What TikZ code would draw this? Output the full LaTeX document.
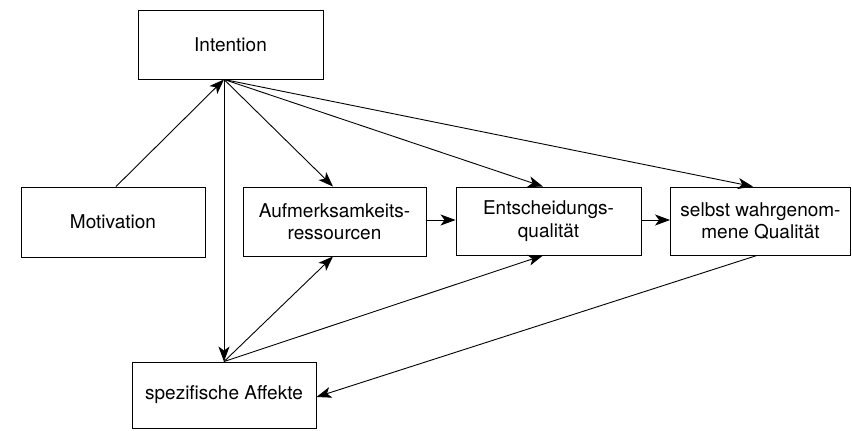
\documentclass[tikz,border=0pt]{standalone}
\usepackage{fontspec}
\setmainfont{TeX Gyre Heros}
\usetikzlibrary{arrows.meta,positioning,calc}
\tikzset{
  box/.style={draw, line width=0.9pt, align=center, inner sep=0pt,
    font=\fontsize{19}{22.5}\selectfont},
  pfeil/.style={line width=0.9pt, -{Stealth[length=15pt,width=11pt,inset=4pt]}}
}

\begin{document}
\begin{tikzpicture}[x=1pt,y=-1pt]
\useasboundingbox (0,0) rectangle (852,431);
\node (int) [box, minimum width=185pt, minimum height=69pt] at (230.5,44.5) {Intention};
\node (mot) [box, minimum width=184pt, minimum height=70pt] at (113,222) {Motivation};
\node (auf) [box, minimum width=183pt, minimum height=69pt] at (334.5,221.5) {Aufmerksamkeits-\\ressourcen};
\node (ent) [box, minimum width=185pt, minimum height=68pt] at (548.5,221) {Entscheidungs-\\qualit\"at};
\node (sel) [box, minimum width=180pt, minimum height=68pt] at (760.5,221) {selbst wahrgenom-\\mene Qualit\"at};
\node (aff) [box, minimum width=184pt, minimum height=66pt] at (224,395) {spezifische Affekte};
% Ankerpunkte
\coordinate (intfuss) at ([xshift=-6.5pt]int.south);
\coordinate (afftop) at (aff.north);
\draw[pfeil] ([xshift=3pt]mot.north) -- (intfuss);
\draw[pfeil] (intfuss) -- ([xshift=-1.5pt]auf.north);
\draw[pfeil] (intfuss) -- ([xshift=-5.5pt]ent.north);
\draw[pfeil] (intfuss) -- ([xshift=-7.5pt]sel.north);
\draw[pfeil] (intfuss) -- (afftop);
\draw[pfeil] (afftop) -- ([xshift=-1.5pt]auf.south);
\draw[pfeil] (afftop) -- ([xshift=-5.5pt]ent.south);
\draw[pfeil] ([xshift=-3.5pt]sel.south) -- ([yshift=-2pt]aff.east);
\draw[pfeil] ([yshift=1.5pt]auf.east) -- ([yshift=1.5pt]auf.east -| ent.west);
\draw[pfeil] ([yshift=1pt]ent.east) -- ([yshift=1pt]ent.east -| sel.west);
\end{tikzpicture}
\end{document}
